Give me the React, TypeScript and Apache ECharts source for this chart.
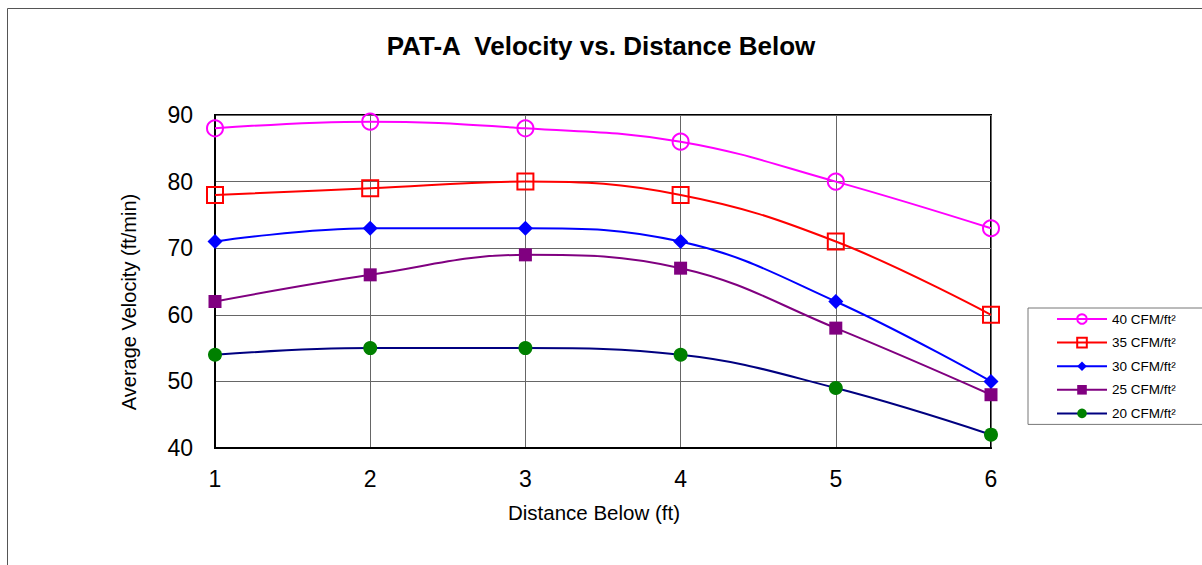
import React, { useEffect, useRef } from "react";
import * as echarts from "echarts";

const distances = [1, 2, 3, 4, 5, 6];
const cfm40 = [88, 89, 88, 86, 80, 73];
const cfm35 = [78, 79, 80, 78, 71, 60];
const cfm30 = [71, 73, 73, 71, 62, 50];
const cfm25 = [62, 66, 69, 67, 58, 48];
const cfm20 = [54, 55, 55, 54, 49, 42];
const seriesNames = ["40 CFM/ft²", "35 CFM/ft²", "30 CFM/ft²", "25 CFM/ft²", "20 CFM/ft²"];
const titleText = "PAT-A  Velocity vs. Distance Below";
const xName = "Distance Below (ft)";
const yName = "Average Velocity (ft/min)";

const FONT = "'Liberation Sans', Arial, sans-serif";

export default function App() {
  const ref = useRef<HTMLDivElement>(null);
  useEffect(() => {
    const chart = echarts.init(ref.current!, null, { renderer: "svg" });
    const pts = (arr: number[]) => distances.map((d, i) => [d, arr[i]]);
    const mk = (
      name: string,
      data: number[],
      lineColor: string,
      symbol: string,
      size: number,
      item: any
    ) => ({
      name,
      type: "line",
      data: pts(data),
      smooth: 0.4,
      symbol,
      symbolSize: size,
      lineStyle: { color: lineColor, width: 2 },
      itemStyle: item,
      emphasis: { disabled: true },
    });
    chart.setOption({
      animation: false,
      backgroundColor: "#fff",
      textStyle: { fontFamily: FONT },
      title: {
        text: titleText,
        left: "center",
        top: 28,
        textStyle: { fontFamily: FONT, fontSize: 26, fontWeight: "bold", color: "#000" },
      },
      graphic: [
        {
          type: "rect",
          shape: { x: 7.5, y: 8.5, width: 1400, height: 800 },
          style: { fill: "none", stroke: "#555", lineWidth: 1 },
          silent: true,
          z: -1,
        },
        {
          type: "text",
          x: 129,
          y: 302,
          rotation: Math.PI / 2,
          style: {
            text: yName,
            fontFamily: FONT,
            fontSize: 20,
            fill: "#000",
            align: "center",
            verticalAlign: "middle",
          },
        },
        {
          type: "text",
          x: 594,
          y: 512,
          style: {
            text: xName,
            fontFamily: FONT,
            fontSize: 20.5,
            fill: "#000",
            align: "center",
            verticalAlign: "middle",
          },
        },
      ],
      grid: {
        left: 215,
        right: 211,
        top: 115,
        bottom: 117,
        show: true,
        borderColor: "#000",
        borderWidth: 2,
        backgroundColor: "transparent",
      },
      legend: {
        orient: "vertical",
        left: 1028,
        top: 308,
        padding: [4, 30, 4, 28],
        itemWidth: 50,
        itemHeight: 12,
        itemGap: 9.6,
        borderColor: "#777",
        borderWidth: 1,
        backgroundColor: "#fff",
        textStyle: { fontFamily: FONT, fontSize: 13.5, color: "#000" },
        data: seriesNames,
      },
      xAxis: {
        type: "value",
        min: 1,
        max: 6,
        interval: 1,
        axisLine: { show: true, lineStyle: { color: "#000", width: 2 } },
        axisTick: { show: false },
        axisLabel: { fontFamily: FONT, fontSize: 23, color: "#000", margin: 19 },
        splitLine: { show: true, lineStyle: { color: "#666", width: 1 } },
      },
      yAxis: {
        type: "value",
        min: 40,
        max: 90,
        interval: 10,
        axisLine: { show: true, lineStyle: { color: "#000", width: 2 } },
        axisTick: { show: false },
        axisLabel: { fontFamily: FONT, fontSize: 23, color: "#000", margin: 22 },
        splitLine: { show: true, lineStyle: { color: "#666", width: 1 } },
      },
      series: [
        mk(seriesNames[0], cfm40, "#ff00ff", "circle", 16, {
          color: "rgba(255,255,255,0)",
          borderColor: "#ff00ff",
          borderWidth: 2,
        }),
        mk(seriesNames[1], cfm35, "#ff0000", "rect", 16, {
          color: "rgba(255,255,255,0)",
          borderColor: "#ff0000",
          borderWidth: 2,
        }),
        mk(seriesNames[2], cfm30, "#0000ff", "diamond", 15, { color: "#0000ff" }),
        mk(seriesNames[3], cfm25, "#800080", "rect", 13, { color: "#800080" }),
        mk(seriesNames[4], cfm20, "#000080", "circle", 14, { color: "#008000" }),
      ],
    });
    return () => chart.dispose();
  }, []);
  return (
    <div
      ref={ref}
      style={{ position: "absolute", left: 0, top: 0, width: 1202, height: 565 }}
    />
  );
}
